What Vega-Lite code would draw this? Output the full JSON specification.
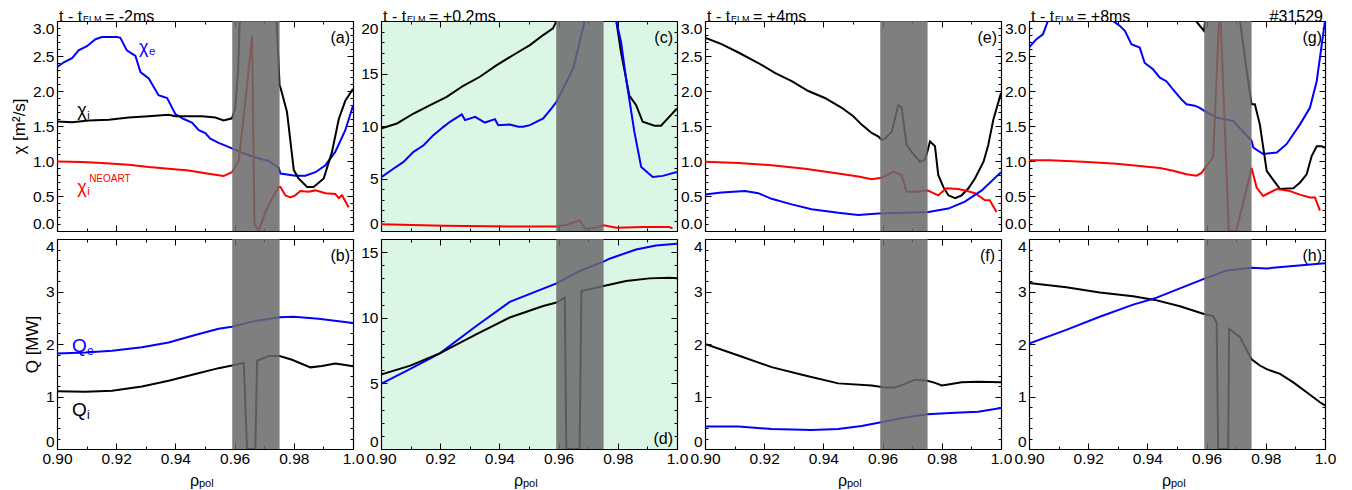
{
"$schema": "https://vega.github.io/schema/vega-lite/v6.json",
"background": "white",
"padding": {"left": 10, "top": 9, "right": 5, "bottom": 5},
"config": {
  "font": "Liberation Sans",
  "view": {"stroke": null},
  "axis": {"domainColor": "black", "domainWidth": 1.2, "tickColor": "black", "tickWidth": 1, "labelFont": "Liberation Sans", "labelFontSize": 15.5, "labelColor": "black", "titleFont": "Liberation Sans", "titleFontSize": 17, "titleFontWeight": "normal", "titleColor": "black", "grid": false, "labelOverlap": false, "zindex": 1},
  "text": {"font": "Liberation Sans", "color": "black"}
},
"datasets": {"d": [
{"p":"a","s":"ce","x":0.9,"y":2.34},{"p":"a","s":"ce","x":0.9023,"y":2.41},{"p":"a","s":"ce","x":0.9051,"y":2.47},{"p":"a","s":"ce","x":0.9073,"y":2.58},{"p":"a","s":"ce","x":0.9101,"y":2.64},{"p":"a","s":"ce","x":0.913,"y":2.74},{"p":"a","s":"ce","x":0.9152,"y":2.77},{"p":"a","s":"ce","x":0.9203,"y":2.77},{"p":"a","s":"ce","x":0.9214,"y":2.76},{"p":"a","s":"ce","x":0.9236,"y":2.58},{"p":"a","s":"ce","x":0.9265,"y":2.5},{"p":"a","s":"ce","x":0.9282,"y":2.27},{"p":"a","s":"ce","x":0.931,"y":2.18},{"p":"a","s":"ce","x":0.9343,"y":1.94},{"p":"a","s":"ce","x":0.9372,"y":1.9},{"p":"a","s":"ce","x":0.94,"y":1.67},{"p":"a","s":"ce","x":0.9428,"y":1.6},{"p":"a","s":"ce","x":0.9456,"y":1.55},{"p":"a","s":"ce","x":0.9479,"y":1.44},{"p":"a","s":"ce","x":0.9501,"y":1.4},{"p":"a","s":"ce","x":0.9518,"y":1.32},{"p":"a","s":"ce","x":0.9546,"y":1.26},{"p":"a","s":"ce","x":0.9569,"y":1.22},{"p":"a","s":"ce","x":0.9591,"y":1.18},{"p":"a","s":"ce","x":0.9625,"y":1.12},{"p":"a","s":"ce","x":0.967,"y":1.05},{"p":"a","s":"ce","x":0.9715,"y":1.0},{"p":"a","s":"ce","x":0.9749,"y":0.9},{"p":"a","s":"ce","x":0.9755,"y":0.82},{"p":"a","s":"ce","x":0.9805,"y":0.79},{"p":"a","s":"ce","x":0.9839,"y":0.79},{"p":"a","s":"ce","x":0.9873,"y":0.84},{"p":"a","s":"ce","x":0.9907,"y":0.94},{"p":"a","s":"ce","x":0.994,"y":1.13},{"p":"a","s":"ce","x":0.9974,"y":1.44},{"p":"a","s":"ce","x":1.0,"y":1.79},
{"p":"a","s":"ci","x":0.9,"y":1.565},{"p":"a","s":"ci","x":0.9051,"y":1.555},{"p":"a","s":"ci","x":0.9107,"y":1.58},{"p":"a","s":"ci","x":0.9175,"y":1.59},{"p":"a","s":"ci","x":0.9242,"y":1.62},{"p":"a","s":"ci","x":0.931,"y":1.64},{"p":"a","s":"ci","x":0.9343,"y":1.65},{"p":"a","s":"ci","x":0.9377,"y":1.66},{"p":"a","s":"ci","x":0.94,"y":1.64},{"p":"a","s":"ci","x":0.9445,"y":1.64},{"p":"a","s":"ci","x":0.949,"y":1.64},{"p":"a","s":"ci","x":0.9535,"y":1.62},{"p":"a","s":"ci","x":0.9563,"y":1.58},{"p":"a","s":"ci","x":0.9591,"y":1.61},{"p":"a","s":"ci","x":0.9602,"y":1.75},{"p":"a","s":"ci","x":0.9612,"y":2.3},{"p":"a","s":"ci","x":0.9619,"y":3.2},{"p":"a","s":"ci","x":0.9625,"y":4.0},{"p":"a","s":"ci","x":0.973,"y":4.0},{"p":"a","s":"ci","x":0.9742,"y":3.0},{"p":"a","s":"ci","x":0.9752,"y":2.08},{"p":"a","s":"ci","x":0.9755,"y":2.05},{"p":"a","s":"ci","x":0.9777,"y":1.7},{"p":"a","s":"ci","x":0.98,"y":0.87},{"p":"a","s":"ci","x":0.9816,"y":0.75},{"p":"a","s":"ci","x":0.9845,"y":0.63},{"p":"a","s":"ci","x":0.9867,"y":0.63},{"p":"a","s":"ci","x":0.9901,"y":0.75},{"p":"a","s":"ci","x":0.9929,"y":1.13},{"p":"a","s":"ci","x":0.9952,"y":1.6},{"p":"a","s":"ci","x":0.9974,"y":1.86},{"p":"a","s":"ci","x":1.0,"y":2.03},
{"p":"a","s":"cn","x":0.9,"y":0.994},{"p":"a","s":"cn","x":0.9084,"y":0.984},{"p":"a","s":"cn","x":0.9152,"y":0.97},{"p":"a","s":"cn","x":0.9242,"y":0.946},{"p":"a","s":"cn","x":0.931,"y":0.913},{"p":"a","s":"cn","x":0.9377,"y":0.89},{"p":"a","s":"cn","x":0.9445,"y":0.865},{"p":"a","s":"cn","x":0.9512,"y":0.818},{"p":"a","s":"cn","x":0.9563,"y":0.785},{"p":"a","s":"cn","x":0.9591,"y":0.84},{"p":"a","s":"cn","x":0.9614,"y":1.0},{"p":"a","s":"cn","x":0.9636,"y":1.84},{"p":"a","s":"cn","x":0.9659,"y":2.79},{"p":"a","s":"cn","x":0.9667,"y":0.1},{"p":"a","s":"cn","x":0.9681,"y":0.0},{"p":"a","s":"cn","x":0.9704,"y":0.27},{"p":"a","s":"cn","x":0.9726,"y":0.46},{"p":"a","s":"cn","x":0.9749,"y":0.63},{"p":"a","s":"cn","x":0.9755,"y":0.63},{"p":"a","s":"cn","x":0.9771,"y":0.51},{"p":"a","s":"cn","x":0.9788,"y":0.48},{"p":"a","s":"cn","x":0.9805,"y":0.51},{"p":"a","s":"cn","x":0.9822,"y":0.57},{"p":"a","s":"cn","x":0.985,"y":0.56},{"p":"a","s":"cn","x":0.9873,"y":0.58},{"p":"a","s":"cn","x":0.9907,"y":0.54},{"p":"a","s":"cn","x":0.994,"y":0.53},{"p":"a","s":"cn","x":0.9952,"y":0.47},{"p":"a","s":"cn","x":0.9963,"y":0.51},{"p":"a","s":"cn","x":0.9985,"y":0.34},
{"p":"b","s":"qe","x":0.9,"y":1.82},{"p":"b","s":"qe","x":0.9096,"y":1.84},{"p":"b","s":"qe","x":0.9186,"y":1.87},{"p":"b","s":"qe","x":0.9287,"y":1.94},{"p":"b","s":"qe","x":0.9377,"y":2.03},{"p":"b","s":"qe","x":0.9467,"y":2.17},{"p":"b","s":"qe","x":0.9546,"y":2.29},{"p":"b","s":"qe","x":0.9591,"y":2.33},{"p":"b","s":"qe","x":0.967,"y":2.44},{"p":"b","s":"qe","x":0.9752,"y":2.51},{"p":"b","s":"qe","x":0.98,"y":2.52},{"p":"b","s":"qe","x":0.9884,"y":2.48},{"p":"b","s":"qe","x":1.0,"y":2.4},
{"p":"b","s":"qi","x":0.9,"y":1.1},{"p":"b","s":"qi","x":0.9096,"y":1.09},{"p":"b","s":"qi","x":0.9186,"y":1.11},{"p":"b","s":"qi","x":0.9287,"y":1.19},{"p":"b","s":"qi","x":0.9377,"y":1.3},{"p":"b","s":"qi","x":0.9467,"y":1.43},{"p":"b","s":"qi","x":0.9546,"y":1.54},{"p":"b","s":"qi","x":0.9591,"y":1.59},{"p":"b","s":"qi","x":0.9631,"y":1.64},{"p":"b","s":"qi","x":0.9642,"y":0.0},{"p":"b","s":"qi","x":0.967,"y":0.0},{"p":"b","s":"qi","x":0.9676,"y":1.68},{"p":"b","s":"qi","x":0.9715,"y":1.77},{"p":"b","s":"qi","x":0.9752,"y":1.77},{"p":"b","s":"qi","x":0.9794,"y":1.7},{"p":"b","s":"qi","x":0.9856,"y":1.555},{"p":"b","s":"qi","x":0.9895,"y":1.58},{"p":"b","s":"qi","x":0.994,"y":1.63},{"p":"b","s":"qi","x":0.9974,"y":1.6},{"p":"b","s":"qi","x":1.0,"y":1.575},
{"p":"c","s":"ci","x":0.9,"y":9.76},{"p":"c","s":"ci","x":0.9054,"y":10.24},{"p":"c","s":"ci","x":0.911,"y":11.19},{"p":"c","s":"ci","x":0.9166,"y":11.99},{"p":"c","s":"ci","x":0.9222,"y":12.78},{"p":"c","s":"ci","x":0.9278,"y":13.83},{"p":"c","s":"ci","x":0.9334,"y":14.69},{"p":"c","s":"ci","x":0.9391,"y":15.8},{"p":"c","s":"ci","x":0.9447,"y":16.76},{"p":"c","s":"ci","x":0.9503,"y":17.71},{"p":"c","s":"ci","x":0.9548,"y":18.66},{"p":"c","s":"ci","x":0.9581,"y":19.3},{"p":"c","s":"ci","x":0.9593,"y":20.0},{"p":"c","s":"ci","x":0.962,"y":24},{"p":"c","s":"ci","x":0.978,"y":24},{"p":"c","s":"ci","x":0.9795,"y":20.0},{"p":"c","s":"ci","x":0.9811,"y":17.0},{"p":"c","s":"ci","x":0.9839,"y":12.9},{"p":"c","s":"ci","x":0.9862,"y":11.99},{"p":"c","s":"ci","x":0.9884,"y":10.4},{"p":"c","s":"ci","x":0.9924,"y":10.02},{"p":"c","s":"ci","x":0.9946,"y":10.02},{"p":"c","s":"ci","x":0.9969,"y":10.72},{"p":"c","s":"ci","x":1.0,"y":11.67},
{"p":"c","s":"ce","x":0.9,"y":5.09},{"p":"c","s":"ce","x":0.9043,"y":5.95},{"p":"c","s":"ce","x":0.9076,"y":6.58},{"p":"c","s":"ce","x":0.911,"y":7.54},{"p":"c","s":"ce","x":0.9144,"y":8.17},{"p":"c","s":"ce","x":0.9177,"y":9.13},{"p":"c","s":"ce","x":0.9211,"y":9.92},{"p":"c","s":"ce","x":0.9233,"y":10.4},{"p":"c","s":"ce","x":0.9273,"y":11.1},{"p":"c","s":"ce","x":0.9284,"y":10.56},{"p":"c","s":"ce","x":0.9318,"y":10.87},{"p":"c","s":"ce","x":0.9351,"y":10.33},{"p":"c","s":"ce","x":0.9385,"y":10.65},{"p":"c","s":"ce","x":0.9396,"y":10.08},{"p":"c","s":"ce","x":0.9435,"y":10.14},{"p":"c","s":"ce","x":0.9464,"y":9.92},{"p":"c","s":"ce","x":0.948,"y":9.92},{"p":"c","s":"ce","x":0.9503,"y":10.08},{"p":"c","s":"ce","x":0.9548,"y":10.72},{"p":"c","s":"ce","x":0.9576,"y":11.67},{"p":"c","s":"ce","x":0.9593,"y":12.31},{"p":"c","s":"ce","x":0.965,"y":15.5},{"p":"c","s":"ce","x":0.9688,"y":20.0},{"p":"c","s":"ce","x":0.97,"y":24},{"p":"c","s":"ce","x":0.978,"y":24},{"p":"c","s":"ce","x":0.9795,"y":20.0},{"p":"c","s":"ce","x":0.9811,"y":18.0},{"p":"c","s":"ce","x":0.9828,"y":14.5},{"p":"c","s":"ce","x":0.9856,"y":9.44},{"p":"c","s":"ce","x":0.9879,"y":6.1},{"p":"c","s":"ce","x":0.9918,"y":5.15},{"p":"c","s":"ce","x":0.9952,"y":5.25},{"p":"c","s":"ce","x":1.0,"y":5.63},
{"p":"c","s":"cn","x":0.9,"y":0.64},{"p":"c","s":"cn","x":0.9211,"y":0.5},{"p":"c","s":"cn","x":0.9435,"y":0.42},{"p":"c","s":"cn","x":0.9593,"y":0.42},{"p":"c","s":"cn","x":0.9626,"y":0.6},{"p":"c","s":"cn","x":0.9671,"y":1.0},{"p":"c","s":"cn","x":0.969,"y":0.2},{"p":"c","s":"cn","x":0.972,"y":0.3},{"p":"c","s":"cn","x":0.9752,"y":0.54},{"p":"c","s":"cn","x":0.9795,"y":0.32},{"p":"c","s":"cn","x":0.9884,"y":0.38},{"p":"c","s":"cn","x":0.9974,"y":0.38},{"p":"c","s":"cn","x":0.9985,"y":0.25},
{"p":"d","s":"qe","x":0.9,"y":4.96},{"p":"d","s":"qe","x":0.9099,"y":6.1},{"p":"d","s":"qe","x":0.92,"y":7.31},{"p":"d","s":"qe","x":0.9323,"y":9.39},{"p":"d","s":"qe","x":0.9435,"y":11.21},{"p":"d","s":"qe","x":0.9593,"y":12.62},{"p":"d","s":"qe","x":0.9671,"y":13.56},{"p":"d","s":"qe","x":0.9752,"y":14.27},{"p":"d","s":"qe","x":0.9772,"y":14.5},{"p":"d","s":"qe","x":0.9862,"y":15.2},{"p":"d","s":"qe","x":0.9929,"y":15.51},{"p":"d","s":"qe","x":1.0,"y":15.63},
{"p":"d","s":"qi","x":0.9,"y":5.67},{"p":"d","s":"qi","x":0.9099,"y":6.35},{"p":"d","s":"qi","x":0.92,"y":7.31},{"p":"d","s":"qi","x":0.9323,"y":8.75},{"p":"d","s":"qi","x":0.9435,"y":10.02},{"p":"d","s":"qi","x":0.9548,"y":10.9},{"p":"d","s":"qi","x":0.9593,"y":11.16},{"p":"d","s":"qi","x":0.9621,"y":11.54},{"p":"d","s":"qi","x":0.9626,"y":0.0},{"p":"d","s":"qi","x":0.9671,"y":0.0},{"p":"d","s":"qi","x":0.9677,"y":12.04},{"p":"d","s":"qi","x":0.9752,"y":12.42},{"p":"d","s":"qi","x":0.9828,"y":12.8},{"p":"d","s":"qi","x":0.9907,"y":13.0},{"p":"d","s":"qi","x":0.9974,"y":13.05},{"p":"d","s":"qi","x":1.0,"y":13.0},
{"p":"e","s":"ci","x":0.9,"y":2.76},{"p":"e","s":"ci","x":0.9056,"y":2.67},{"p":"e","s":"ci","x":0.9113,"y":2.55},{"p":"e","s":"ci","x":0.918,"y":2.4},{"p":"e","s":"ci","x":0.9236,"y":2.26},{"p":"e","s":"ci","x":0.9293,"y":2.14},{"p":"e","s":"ci","x":0.9349,"y":2.0},{"p":"e","s":"ci","x":0.9405,"y":1.9},{"p":"e","s":"ci","x":0.9462,"y":1.76},{"p":"e","s":"ci","x":0.9501,"y":1.64},{"p":"e","s":"ci","x":0.9529,"y":1.52},{"p":"e","s":"ci","x":0.9563,"y":1.4},{"p":"e","s":"ci","x":0.9586,"y":1.35},{"p":"e","s":"ci","x":0.9597,"y":1.3},{"p":"e","s":"ci","x":0.9608,"y":1.32},{"p":"e","s":"ci","x":0.9631,"y":1.42},{"p":"e","s":"ci","x":0.9653,"y":1.8},{"p":"e","s":"ci","x":0.9664,"y":1.77},{"p":"e","s":"ci","x":0.9681,"y":1.23},{"p":"e","s":"ci","x":0.9698,"y":1.13},{"p":"e","s":"ci","x":0.9726,"y":0.99},{"p":"e","s":"ci","x":0.9743,"y":1.02},{"p":"e","s":"ci","x":0.9751,"y":1.13},{"p":"e","s":"ci","x":0.976,"y":1.28},{"p":"e","s":"ci","x":0.9777,"y":1.21},{"p":"e","s":"ci","x":0.9788,"y":0.8},{"p":"e","s":"ci","x":0.9805,"y":0.63},{"p":"e","s":"ci","x":0.9822,"y":0.51},{"p":"e","s":"ci","x":0.9845,"y":0.47},{"p":"e","s":"ci","x":0.9867,"y":0.51},{"p":"e","s":"ci","x":0.989,"y":0.61},{"p":"e","s":"ci","x":0.9912,"y":0.75},{"p":"e","s":"ci","x":0.9941,"y":0.99},{"p":"e","s":"ci","x":0.9957,"y":1.23},{"p":"e","s":"ci","x":0.9974,"y":1.59},{"p":"e","s":"ci","x":1.0,"y":1.97},
{"p":"e","s":"cn","x":0.9,"y":0.99},{"p":"e","s":"cn","x":0.9113,"y":0.97},{"p":"e","s":"cn","x":0.9225,"y":0.94},{"p":"e","s":"cn","x":0.9338,"y":0.89},{"p":"e","s":"cn","x":0.945,"y":0.82},{"p":"e","s":"cn","x":0.9518,"y":0.78},{"p":"e","s":"cn","x":0.9563,"y":0.74},{"p":"e","s":"cn","x":0.9597,"y":0.76},{"p":"e","s":"cn","x":0.9636,"y":0.85},{"p":"e","s":"cn","x":0.9664,"y":0.8},{"p":"e","s":"cn","x":0.9681,"y":0.56},{"p":"e","s":"cn","x":0.9721,"y":0.56},{"p":"e","s":"cn","x":0.9751,"y":0.58},{"p":"e","s":"cn","x":0.9788,"y":0.51},{"p":"e","s":"cn","x":0.9816,"y":0.61},{"p":"e","s":"cn","x":0.9856,"y":0.6},{"p":"e","s":"cn","x":0.9878,"y":0.58},{"p":"e","s":"cn","x":0.9912,"y":0.54},{"p":"e","s":"cn","x":0.9946,"y":0.44},{"p":"e","s":"cn","x":0.9962,"y":0.44},{"p":"e","s":"cn","x":0.9985,"y":0.27},
{"p":"e","s":"ce","x":0.9,"y":0.52},{"p":"e","s":"ce","x":0.9056,"y":0.55},{"p":"e","s":"ce","x":0.9135,"y":0.57},{"p":"e","s":"ce","x":0.918,"y":0.54},{"p":"e","s":"ce","x":0.9225,"y":0.46},{"p":"e","s":"ce","x":0.9293,"y":0.38},{"p":"e","s":"ce","x":0.936,"y":0.31},{"p":"e","s":"ce","x":0.945,"y":0.26},{"p":"e","s":"ce","x":0.9518,"y":0.23},{"p":"e","s":"ce","x":0.9586,"y":0.25},{"p":"e","s":"ce","x":0.9676,"y":0.26},{"p":"e","s":"ce","x":0.9755,"y":0.27},{"p":"e","s":"ce","x":0.9822,"y":0.32},{"p":"e","s":"ce","x":0.9878,"y":0.42},{"p":"e","s":"ce","x":0.9935,"y":0.58},{"p":"e","s":"ce","x":1.0,"y":0.84},
{"p":"f","s":"qi","x":0.9,"y":2.0},{"p":"f","s":"qi","x":0.9113,"y":1.78},{"p":"f","s":"qi","x":0.9225,"y":1.56},{"p":"f","s":"qi","x":0.9338,"y":1.4},{"p":"f","s":"qi","x":0.945,"y":1.25},{"p":"f","s":"qi","x":0.9563,"y":1.21},{"p":"f","s":"qi","x":0.9608,"y":1.17},{"p":"f","s":"qi","x":0.9642,"y":1.17},{"p":"f","s":"qi","x":0.9676,"y":1.24},{"p":"f","s":"qi","x":0.9709,"y":1.32},{"p":"f","s":"qi","x":0.9751,"y":1.3},{"p":"f","s":"qi","x":0.9777,"y":1.26},{"p":"f","s":"qi","x":0.98,"y":1.21},{"p":"f","s":"qi","x":0.9822,"y":1.23},{"p":"f","s":"qi","x":0.9867,"y":1.27},{"p":"f","s":"qi","x":0.9923,"y":1.28},{"p":"f","s":"qi","x":1.0,"y":1.27},
{"p":"f","s":"qe","x":0.9,"y":0.43},{"p":"f","s":"qe","x":0.9113,"y":0.43},{"p":"f","s":"qe","x":0.9225,"y":0.38},{"p":"f","s":"qe","x":0.936,"y":0.36},{"p":"f","s":"qe","x":0.945,"y":0.38},{"p":"f","s":"qe","x":0.9529,"y":0.44},{"p":"f","s":"qe","x":0.9595,"y":0.51},{"p":"f","s":"qe","x":0.9676,"y":0.6},{"p":"f","s":"qe","x":0.9751,"y":0.66},{"p":"f","s":"qe","x":0.9845,"y":0.69},{"p":"f","s":"qe","x":0.9923,"y":0.71},{"p":"f","s":"qe","x":1.0,"y":0.78},
{"p":"g","s":"ce","x":0.9,"y":2.62},{"p":"g","s":"ce","x":0.9025,"y":2.74},{"p":"g","s":"ce","x":0.9047,"y":2.81},{"p":"g","s":"ce","x":0.9064,"y":3.0},{"p":"g","s":"ce","x":0.91,"y":3.2},{"p":"g","s":"ce","x":0.918,"y":3.3},{"p":"g","s":"ce","x":0.924,"y":3.25},{"p":"g","s":"ce","x":0.9284,"y":3.0},{"p":"g","s":"ce","x":0.9307,"y":2.93},{"p":"g","s":"ce","x":0.9324,"y":2.86},{"p":"g","s":"ce","x":0.9346,"y":2.67},{"p":"g","s":"ce","x":0.9374,"y":2.62},{"p":"g","s":"ce","x":0.9391,"y":2.4},{"p":"g","s":"ce","x":0.9419,"y":2.31},{"p":"g","s":"ce","x":0.9442,"y":2.19},{"p":"g","s":"ce","x":0.9464,"y":2.14},{"p":"g","s":"ce","x":0.9487,"y":2.02},{"p":"g","s":"ce","x":0.9515,"y":1.88},{"p":"g","s":"ce","x":0.9532,"y":1.81},{"p":"g","s":"ce","x":0.956,"y":1.79},{"p":"g","s":"ce","x":0.9577,"y":1.76},{"p":"g","s":"ce","x":0.9591,"y":1.72},{"p":"g","s":"ce","x":0.9634,"y":1.62},{"p":"g","s":"ce","x":0.969,"y":1.57},{"p":"g","s":"ce","x":0.9752,"y":1.29},{"p":"g","s":"ce","x":0.9758,"y":1.19},{"p":"g","s":"ce","x":0.9791,"y":1.1},{"p":"g","s":"ce","x":0.9837,"y":1.12},{"p":"g","s":"ce","x":0.987,"y":1.24},{"p":"g","s":"ce","x":0.9915,"y":1.52},{"p":"g","s":"ce","x":0.9949,"y":1.76},{"p":"g","s":"ce","x":0.9972,"y":2.14},{"p":"g","s":"ce","x":1.0,"y":3.0},
{"p":"g","s":"ci","x":0.9,"y":3.6},{"p":"g","s":"ci","x":0.955,"y":3.3},{"p":"g","s":"ci","x":0.9566,"y":2.99},{"p":"g","s":"ci","x":0.9591,"y":2.86},{"p":"g","s":"ci","x":0.961,"y":3.5},{"p":"g","s":"ci","x":0.97,"y":3.6},{"p":"g","s":"ci","x":0.9713,"y":3.0},{"p":"g","s":"ci","x":0.9735,"y":2.3},{"p":"g","s":"ci","x":0.9752,"y":1.81},{"p":"g","s":"ci","x":0.9763,"y":1.81},{"p":"g","s":"ci","x":0.978,"y":1.52},{"p":"g","s":"ci","x":0.9803,"y":0.86},{"p":"g","s":"ci","x":0.982,"y":0.76},{"p":"g","s":"ci","x":0.9848,"y":0.6},{"p":"g","s":"ci","x":0.9893,"y":0.61},{"p":"g","s":"ci","x":0.9915,"y":0.69},{"p":"g","s":"ci","x":0.9938,"y":0.81},{"p":"g","s":"ci","x":0.9955,"y":1.07},{"p":"g","s":"ci","x":0.9972,"y":1.21},{"p":"g","s":"ci","x":0.9989,"y":1.21},{"p":"g","s":"ci","x":1.0,"y":1.19},
{"p":"g","s":"cn","x":0.9,"y":1.01},{"p":"g","s":"cn","x":0.907,"y":1.01},{"p":"g","s":"cn","x":0.9183,"y":0.99},{"p":"g","s":"cn","x":0.9295,"y":0.96},{"p":"g","s":"cn","x":0.9374,"y":0.93},{"p":"g","s":"cn","x":0.9442,"y":0.9},{"p":"g","s":"cn","x":0.9487,"y":0.86},{"p":"g","s":"cn","x":0.9532,"y":0.81},{"p":"g","s":"cn","x":0.9566,"y":0.79},{"p":"g","s":"cn","x":0.9583,"y":0.83},{"p":"g","s":"cn","x":0.9591,"y":0.88},{"p":"g","s":"cn","x":0.9622,"y":1.05},{"p":"g","s":"cn","x":0.9645,"y":3.3},{"p":"g","s":"cn","x":0.9675,"y":0.0},{"p":"g","s":"cn","x":0.97,"y":0.0},{"p":"g","s":"cn","x":0.9735,"y":0.6},{"p":"g","s":"cn","x":0.9752,"y":0.9},{"p":"g","s":"cn","x":0.9769,"y":0.62},{"p":"g","s":"cn","x":0.9791,"y":0.5},{"p":"g","s":"cn","x":0.9814,"y":0.55},{"p":"g","s":"cn","x":0.9837,"y":0.6},{"p":"g","s":"cn","x":0.9882,"y":0.57},{"p":"g","s":"cn","x":0.9915,"y":0.52},{"p":"g","s":"cn","x":0.9949,"y":0.48},{"p":"g","s":"cn","x":0.9966,"y":0.48},{"p":"g","s":"cn","x":0.9983,"y":0.29},
{"p":"h","s":"qi","x":0.9,"y":3.16},{"p":"h","s":"qi","x":0.9126,"y":3.08},{"p":"h","s":"qi","x":0.9239,"y":2.98},{"p":"h","s":"qi","x":0.9352,"y":2.91},{"p":"h","s":"qi","x":0.9425,"y":2.84},{"p":"h","s":"qi","x":0.951,"y":2.72},{"p":"h","s":"qi","x":0.9591,"y":2.57},{"p":"h","s":"qi","x":0.9622,"y":2.53},{"p":"h","s":"qi","x":0.9634,"y":2.41},{"p":"h","s":"qi","x":0.9639,"y":0.0},{"p":"h","s":"qi","x":0.9673,"y":0.0},{"p":"h","s":"qi","x":0.9676,"y":2.29},{"p":"h","s":"qi","x":0.9713,"y":2.13},{"p":"h","s":"qi","x":0.9752,"y":1.71},{"p":"h","s":"qi","x":0.978,"y":1.59},{"p":"h","s":"qi","x":0.9803,"y":1.52},{"p":"h","s":"qi","x":0.9848,"y":1.43},{"p":"h","s":"qi","x":0.9893,"y":1.27},{"p":"h","s":"qi","x":0.9938,"y":1.08},{"p":"h","s":"qi","x":0.9983,"y":0.89},{"p":"h","s":"qi","x":1.0,"y":0.83},
{"p":"h","s":"qe","x":0.9,"y":2.01},{"p":"h","s":"qe","x":0.9126,"y":2.27},{"p":"h","s":"qe","x":0.9239,"y":2.52},{"p":"h","s":"qe","x":0.9352,"y":2.75},{"p":"h","s":"qe","x":0.9425,"y":2.87},{"p":"h","s":"qe","x":0.951,"y":3.06},{"p":"h","s":"qe","x":0.9591,"y":3.24},{"p":"h","s":"qe","x":0.9667,"y":3.4},{"p":"h","s":"qe","x":0.9752,"y":3.45},{"p":"h","s":"qe","x":0.9803,"y":3.44},{"p":"h","s":"qe","x":0.9882,"y":3.48},{"p":"h","s":"qe","x":1.0,"y":3.54}
]},
"columns": 4,
"spacing": {"row": 8, "column": 28},
"bounds": "flush",
"concat": [
 {"width": 296, "height": 210,
  "layer": [
   {"data": {"name": "d"}, "transform": [{"filter": "datum.p=='a'"}],
    "mark": {"type": "line", "strokeWidth": 2, "clip": true},
    "encoding": {
     "x": {"field": "x", "type": "quantitative", "scale": {"domain": [0.9, 1.0], "nice": false, "zero": false}, "axis": {"orient": "bottom", "values": [0.9,0.91,0.92,0.93,0.94,0.95,0.96,0.97,0.98,0.99,1.0], "labels": false, "title": null, "tickSize": {"condition": {"test": "round(datum.value*100)%2==0", "value": -6}, "value": -3}}},
     "y": {"field": "y", "type": "quantitative", "scale": {"domain": [0, 3], "nice": false, "zero": false}, "axis": {"orient": "left", "values": [0,0.1,0.2,0.3,0.4,0.5,0.6,0.7,0.8,0.9,1,1.1,1.2,1.3,1.4,1.5,1.6,1.7,1.8,1.9,2,2.1,2.2,2.3,2.4,2.5,2.6,2.7,2.8,2.9,3], "labelExpr": "round(datum.value*10)%5==0 ? format(datum.value,'.1f') : ''", "labelFlush": true, "labelPadding": 9, "tickSize": {"condition": {"test": "round(datum.value*10)%5==0", "value": -6}, "value": -3}, "title": "χ [m²/s]"}},
     "color": {"field": "s", "type": "nominal", "scale": {"domain": ["ce","ci","cn","qe","qi"], "range": ["#0000ff","#000000","#ff0000","#0000ff","#000000"]}, "legend": null}
    }},
   {"data": {"values": [{}]}, "mark": {"type": "rect", "color": "#6a6a6a", "opacity": 0.86},
    "encoding": {
     "x": {"datum": 0.9592, "type": "quantitative", "axis": {"orient": "top", "values": [0.9,0.91,0.92,0.93,0.94,0.95,0.96,0.97,0.98,0.99,1.0], "labels": false, "title": null, "tickSize": {"condition": {"test": "round(datum.value*100)%2==0", "value": -6}, "value": -3}}},
     "x2": {"datum": 0.9752},
     "y": {"datum": 0, "type": "quantitative", "axis": {"orient": "right", "values": [0,0.1,0.2,0.3,0.4,0.5,0.6,0.7,0.8,0.9,1,1.1,1.2,1.3,1.4,1.5,1.6,1.7,1.8,1.9,2,2.1,2.2,2.3,2.4,2.5,2.6,2.7,2.8,2.9,3], "labels": false, "title": null, "tickSize": {"condition": {"test": "round(datum.value*10)%5==0", "value": -6}, "value": -3}}},
     "y2": {"datum": 3}
    }},
   {"data": {"values": [{}]}, "mark": {"type": "text", "text": "t - t", "align": "left", "dx": 2, "dy": -4, "fontSize": 16}, "encoding": {"x": {"datum": 0.9, "type": "quantitative", "axis": null}, "y": {"datum": 3, "type": "quantitative", "axis": null}}},
   {"data": {"values": [{}]}, "mark": {"type": "text", "text": "ELM", "align": "left", "dx": 26, "dy": -2, "fontSize": 9}, "encoding": {"x": {"datum": 0.9, "type": "quantitative", "axis": null}, "y": {"datum": 3, "type": "quantitative", "axis": null}}},
   {"data": {"values": [{}]}, "mark": {"type": "text", "text": "= -2ms", "align": "left", "dx": 48, "dy": -4, "fontSize": 16}, "encoding": {"x": {"datum": 0.9, "type": "quantitative", "axis": null}, "y": {"datum": 3, "type": "quantitative", "axis": null}}},
   {"data": {"values": [{}]}, "mark": {"type": "text", "text": "(a)", "align": "right", "dx": -3, "dy": 17, "fontSize": 16}, "encoding": {"x": {"datum": 1.0, "type": "quantitative", "axis": null}, "y": {"datum": 3, "type": "quantitative", "axis": null}}},
   {"data": {"values": [{}]}, "mark": {"type": "text", "text": "χ", "align": "left", "fontSize": 18, "color": "#0000ff"}, "encoding": {"x": {"datum": 0.9277, "type": "quantitative", "axis": null}, "y": {"datum": 2.614, "type": "quantitative", "axis": null}}},
   {"data": {"values": [{}]}, "mark": {"type": "text", "text": "e", "align": "left", "dx": 10, "dy": 4, "fontSize": 11.5, "color": "#0000ff"}, "encoding": {"x": {"datum": 0.9277, "type": "quantitative", "axis": null}, "y": {"datum": 2.614, "type": "quantitative", "axis": null}}},
   {"data": {"values": [{}]}, "mark": {"type": "text", "text": "χ", "align": "left", "fontSize": 18, "color": "black"}, "encoding": {"x": {"datum": 0.9068, "type": "quantitative", "axis": null}, "y": {"datum": 1.709, "type": "quantitative", "axis": null}}},
   {"data": {"values": [{}]}, "mark": {"type": "text", "text": "i", "align": "left", "dx": 10, "dy": 4.5, "fontSize": 11, "color": "black"}, "encoding": {"x": {"datum": 0.9068, "type": "quantitative", "axis": null}, "y": {"datum": 1.709, "type": "quantitative", "axis": null}}},
   {"data": {"values": [{}]}, "mark": {"type": "text", "text": "χ", "align": "left", "fontSize": 18, "color": "#ff0000"}, "encoding": {"x": {"datum": 0.9068, "type": "quantitative", "axis": null}, "y": {"datum": 0.614, "type": "quantitative", "axis": null}}},
   {"data": {"values": [{}]}, "mark": {"type": "text", "text": "i", "align": "left", "dx": 10, "dy": 4, "fontSize": 11, "color": "#ff0000"}, "encoding": {"x": {"datum": 0.9068, "type": "quantitative", "axis": null}, "y": {"datum": 0.614, "type": "quantitative", "axis": null}}},
   {"data": {"values": [{}]}, "mark": {"type": "text", "text": "NEOART", "align": "left", "dx": 12, "dy": -9, "fontSize": 10, "color": "#ff0000"}, "encoding": {"x": {"datum": 0.9068, "type": "quantitative", "axis": null}, "y": {"datum": 0.614, "type": "quantitative", "axis": null}}}
  ],
  "resolve": {"axis": {"x": "independent", "y": "independent"}}},
 {"width": 296, "height": 210, "view": {"fill": "#dcf6e6"},
  "layer": [
   {"data": {"name": "d"}, "transform": [{"filter": "datum.p=='c'"}],
    "mark": {"type": "line", "strokeWidth": 2, "clip": true},
    "encoding": {
     "x": {"field": "x", "type": "quantitative", "scale": {"domain": [0.9, 1.0], "nice": false, "zero": false}, "axis": {"orient": "bottom", "values": [0.9,0.91,0.92,0.93,0.94,0.95,0.96,0.97,0.98,0.99,1.0], "labels": false, "title": null, "tickSize": {"condition": {"test": "round(datum.value*100)%2==0", "value": -6}, "value": -3}}},
     "y": {"field": "y", "type": "quantitative", "scale": {"domain": [0, 20], "nice": false, "zero": false}, "axis": {"orient": "left", "values": [0,1,2,3,4,5,6,7,8,9,10,11,12,13,14,15,16,17,18,19,20], "labelExpr": "round(datum.value)%5==0 ? format(datum.value,'d') : ''", "labelFlush": true, "labelPadding": 9, "tickSize": {"condition": {"test": "round(datum.value)%5==0", "value": -6}, "value": -3}, "title": null}},
     "color": {"field": "s", "type": "nominal", "scale": {"domain": ["ce","ci","cn","qe","qi"], "range": ["#0000ff","#000000","#ff0000","#0000ff","#000000"]}, "legend": null}
    }},
   {"data": {"values": [{}]}, "mark": {"type": "rect", "color": "#6a6a6a", "opacity": 0.86},
    "encoding": {
     "x": {"datum": 0.9592, "type": "quantitative", "axis": {"orient": "top", "values": [0.9,0.91,0.92,0.93,0.94,0.95,0.96,0.97,0.98,0.99,1.0], "labels": false, "title": null, "tickSize": {"condition": {"test": "round(datum.value*100)%2==0", "value": -6}, "value": -3}}},
     "x2": {"datum": 0.9752},
     "y": {"datum": 0, "type": "quantitative", "axis": {"orient": "right", "values": [0,1,2,3,4,5,6,7,8,9,10,11,12,13,14,15,16,17,18,19,20], "labels": false, "title": null, "tickSize": {"condition": {"test": "round(datum.value)%5==0", "value": -6}, "value": -3}}},
     "y2": {"datum": 20}
    }},
   {"data": {"values": [{}]}, "mark": {"type": "text", "text": "t - t", "align": "left", "dx": 2, "dy": -4, "fontSize": 16}, "encoding": {"x": {"datum": 0.9, "type": "quantitative", "axis": null}, "y": {"datum": 20, "type": "quantitative", "axis": null}}},
   {"data": {"values": [{}]}, "mark": {"type": "text", "text": "ELM", "align": "left", "dx": 26, "dy": -2, "fontSize": 9}, "encoding": {"x": {"datum": 0.9, "type": "quantitative", "axis": null}, "y": {"datum": 20, "type": "quantitative", "axis": null}}},
   {"data": {"values": [{}]}, "mark": {"type": "text", "text": "= +0.2ms", "align": "left", "dx": 48, "dy": -4, "fontSize": 16}, "encoding": {"x": {"datum": 0.9, "type": "quantitative", "axis": null}, "y": {"datum": 20, "type": "quantitative", "axis": null}}},
   {"data": {"values": [{}]}, "mark": {"type": "text", "text": "(c)", "align": "right", "dx": -4, "dy": 17, "fontSize": 16}, "encoding": {"x": {"datum": 1.0, "type": "quantitative", "axis": null}, "y": {"datum": 20, "type": "quantitative", "axis": null}}}
  ],
  "resolve": {"axis": {"x": "independent", "y": "independent"}}},
 {"width": 296, "height": 210,
  "layer": [
   {"data": {"name": "d"}, "transform": [{"filter": "datum.p=='e'"}],
    "mark": {"type": "line", "strokeWidth": 2, "clip": true},
    "encoding": {
     "x": {"field": "x", "type": "quantitative", "scale": {"domain": [0.9, 1.0], "nice": false, "zero": false}, "axis": {"orient": "bottom", "values": [0.9,0.91,0.92,0.93,0.94,0.95,0.96,0.97,0.98,0.99,1.0], "labels": false, "title": null, "tickSize": {"condition": {"test": "round(datum.value*100)%2==0", "value": -6}, "value": -3}}},
     "y": {"field": "y", "type": "quantitative", "scale": {"domain": [0, 3], "nice": false, "zero": false}, "axis": {"orient": "left", "values": [0,0.1,0.2,0.3,0.4,0.5,0.6,0.7,0.8,0.9,1,1.1,1.2,1.3,1.4,1.5,1.6,1.7,1.8,1.9,2,2.1,2.2,2.3,2.4,2.5,2.6,2.7,2.8,2.9,3], "labelExpr": "round(datum.value*10)%5==0 ? format(datum.value,'.1f') : ''", "labelFlush": true, "labelPadding": 9, "tickSize": {"condition": {"test": "round(datum.value*10)%5==0", "value": -6}, "value": -3}, "title": null}},
     "color": {"field": "s", "type": "nominal", "scale": {"domain": ["ce","ci","cn","qe","qi"], "range": ["#0000ff","#000000","#ff0000","#0000ff","#000000"]}, "legend": null}
    }},
   {"data": {"values": [{}]}, "mark": {"type": "rect", "color": "#6a6a6a", "opacity": 0.86},
    "encoding": {
     "x": {"datum": 0.9592, "type": "quantitative", "axis": {"orient": "top", "values": [0.9,0.91,0.92,0.93,0.94,0.95,0.96,0.97,0.98,0.99,1.0], "labels": false, "title": null, "tickSize": {"condition": {"test": "round(datum.value*100)%2==0", "value": -6}, "value": -3}}},
     "x2": {"datum": 0.9752},
     "y": {"datum": 0, "type": "quantitative", "axis": {"orient": "right", "values": [0,0.1,0.2,0.3,0.4,0.5,0.6,0.7,0.8,0.9,1,1.1,1.2,1.3,1.4,1.5,1.6,1.7,1.8,1.9,2,2.1,2.2,2.3,2.4,2.5,2.6,2.7,2.8,2.9,3], "labels": false, "title": null, "tickSize": {"condition": {"test": "round(datum.value*10)%5==0", "value": -6}, "value": -3}}},
     "y2": {"datum": 3}
    }},
   {"data": {"values": [{}]}, "mark": {"type": "text", "text": "t - t", "align": "left", "dx": 2, "dy": -4, "fontSize": 16}, "encoding": {"x": {"datum": 0.9, "type": "quantitative", "axis": null}, "y": {"datum": 3, "type": "quantitative", "axis": null}}},
   {"data": {"values": [{}]}, "mark": {"type": "text", "text": "ELM", "align": "left", "dx": 26, "dy": -2, "fontSize": 9}, "encoding": {"x": {"datum": 0.9, "type": "quantitative", "axis": null}, "y": {"datum": 3, "type": "quantitative", "axis": null}}},
   {"data": {"values": [{}]}, "mark": {"type": "text", "text": "= +4ms", "align": "left", "dx": 48, "dy": -4, "fontSize": 16}, "encoding": {"x": {"datum": 0.9, "type": "quantitative", "axis": null}, "y": {"datum": 3, "type": "quantitative", "axis": null}}},
   {"data": {"values": [{}]}, "mark": {"type": "text", "text": "(e)", "align": "right", "dx": -4, "dy": 17, "fontSize": 16}, "encoding": {"x": {"datum": 1.0, "type": "quantitative", "axis": null}, "y": {"datum": 3, "type": "quantitative", "axis": null}}}
  ],
  "resolve": {"axis": {"x": "independent", "y": "independent"}}},
 {"width": 296, "height": 210,
  "layer": [
   {"data": {"name": "d"}, "transform": [{"filter": "datum.p=='g'"}],
    "mark": {"type": "line", "strokeWidth": 2, "clip": true},
    "encoding": {
     "x": {"field": "x", "type": "quantitative", "scale": {"domain": [0.9, 1.0], "nice": false, "zero": false}, "axis": {"orient": "bottom", "values": [0.9,0.91,0.92,0.93,0.94,0.95,0.96,0.97,0.98,0.99,1.0], "labels": false, "title": null, "tickSize": {"condition": {"test": "round(datum.value*100)%2==0", "value": -6}, "value": -3}}},
     "y": {"field": "y", "type": "quantitative", "scale": {"domain": [0, 3], "nice": false, "zero": false}, "axis": {"orient": "left", "values": [0,0.1,0.2,0.3,0.4,0.5,0.6,0.7,0.8,0.9,1,1.1,1.2,1.3,1.4,1.5,1.6,1.7,1.8,1.9,2,2.1,2.2,2.3,2.4,2.5,2.6,2.7,2.8,2.9,3], "labelExpr": "round(datum.value*10)%5==0 ? format(datum.value,'.1f') : ''", "labelFlush": true, "labelPadding": 9, "tickSize": {"condition": {"test": "round(datum.value*10)%5==0", "value": -6}, "value": -3}, "title": null}},
     "color": {"field": "s", "type": "nominal", "scale": {"domain": ["ce","ci","cn","qe","qi"], "range": ["#0000ff","#000000","#ff0000","#0000ff","#000000"]}, "legend": null}
    }},
   {"data": {"values": [{}]}, "mark": {"type": "rect", "color": "#6a6a6a", "opacity": 0.86},
    "encoding": {
     "x": {"datum": 0.9592, "type": "quantitative", "axis": {"orient": "top", "values": [0.9,0.91,0.92,0.93,0.94,0.95,0.96,0.97,0.98,0.99,1.0], "labels": false, "title": null, "tickSize": {"condition": {"test": "round(datum.value*100)%2==0", "value": -6}, "value": -3}}},
     "x2": {"datum": 0.9752},
     "y": {"datum": 0, "type": "quantitative", "axis": {"orient": "right", "values": [0,0.1,0.2,0.3,0.4,0.5,0.6,0.7,0.8,0.9,1,1.1,1.2,1.3,1.4,1.5,1.6,1.7,1.8,1.9,2,2.1,2.2,2.3,2.4,2.5,2.6,2.7,2.8,2.9,3], "labels": false, "title": null, "tickSize": {"condition": {"test": "round(datum.value*10)%5==0", "value": -6}, "value": -3}}},
     "y2": {"datum": 3}
    }},
   {"data": {"values": [{}]}, "mark": {"type": "text", "text": "t - t", "align": "left", "dx": 2, "dy": -4, "fontSize": 16}, "encoding": {"x": {"datum": 0.9, "type": "quantitative", "axis": null}, "y": {"datum": 3, "type": "quantitative", "axis": null}}},
   {"data": {"values": [{}]}, "mark": {"type": "text", "text": "ELM", "align": "left", "dx": 26, "dy": -2, "fontSize": 9}, "encoding": {"x": {"datum": 0.9, "type": "quantitative", "axis": null}, "y": {"datum": 3, "type": "quantitative", "axis": null}}},
   {"data": {"values": [{}]}, "mark": {"type": "text", "text": "= +8ms", "align": "left", "dx": 48, "dy": -4, "fontSize": 16}, "encoding": {"x": {"datum": 0.9, "type": "quantitative", "axis": null}, "y": {"datum": 3, "type": "quantitative", "axis": null}}},
   {"data": {"values": [{}]}, "mark": {"type": "text", "text": "#31529", "align": "right", "dx": -2, "dy": -4, "fontSize": 16}, "encoding": {"x": {"datum": 1.0, "type": "quantitative", "axis": null}, "y": {"datum": 3, "type": "quantitative", "axis": null}}},
   {"data": {"values": [{}]}, "mark": {"type": "text", "text": "(g)", "align": "right", "dx": -3, "dy": 17, "fontSize": 16}, "encoding": {"x": {"datum": 1.0, "type": "quantitative", "axis": null}, "y": {"datum": 3, "type": "quantitative", "axis": null}}}
  ],
  "resolve": {"axis": {"x": "independent", "y": "independent"}}},
 {"width": 296, "height": 210,
  "layer": [
   {"data": {"name": "d"}, "transform": [{"filter": "datum.p=='b'"}],
    "mark": {"type": "line", "strokeWidth": 2, "clip": true},
    "encoding": {
     "x": {"field": "x", "type": "quantitative", "scale": {"domain": [0.9, 1.0], "nice": false, "zero": false}, "axis": {"orient": "bottom", "values": [0.9,0.91,0.92,0.93,0.94,0.95,0.96,0.97,0.98,0.99,1.0], "labelExpr": "abs(datum.value-1)<0.001 ? '1.0' : (round(datum.value*100)%2==0 ? format(datum.value,'.2f') : '')", "labelFlush": false, "labelPadding": 8, "title": null, "tickSize": {"condition": {"test": "round(datum.value*100)%2==0", "value": -6}, "value": -3}}},
     "y": {"field": "y", "type": "quantitative", "scale": {"domain": [0, 4], "nice": false, "zero": false}, "axis": {"orient": "left", "values": [0,0.2,0.4,0.6,0.8,1,1.2,1.4,1.6,1.8,2,2.2,2.4,2.6,2.8,3,3.2,3.4,3.6,3.8,4], "labelExpr": "round(datum.value*5)%5==0 ? format(datum.value,'d') : ''", "labelFlush": true, "labelPadding": 9, "tickSize": {"condition": {"test": "round(datum.value*5)%5==0", "value": -6}, "value": -3}, "title": "Q [MW]"}},
     "color": {"field": "s", "type": "nominal", "scale": {"domain": ["ce","ci","cn","qe","qi"], "range": ["#0000ff","#000000","#ff0000","#0000ff","#000000"]}, "legend": null}
    }},
   {"data": {"values": [{}]}, "mark": {"type": "rect", "color": "#6a6a6a", "opacity": 0.86},
    "encoding": {
     "x": {"datum": 0.9592, "type": "quantitative", "axis": {"orient": "top", "values": [0.9,0.91,0.92,0.93,0.94,0.95,0.96,0.97,0.98,0.99,1.0], "labels": false, "title": null, "tickSize": {"condition": {"test": "round(datum.value*100)%2==0", "value": -6}, "value": -3}}},
     "x2": {"datum": 0.9752},
     "y": {"datum": 0, "type": "quantitative", "axis": {"orient": "right", "values": [0,0.2,0.4,0.6,0.8,1,1.2,1.4,1.6,1.8,2,2.2,2.4,2.6,2.8,3,3.2,3.4,3.6,3.8,4], "labels": false, "title": null, "tickSize": {"condition": {"test": "round(datum.value*5)%5==0", "value": -6}, "value": -3}}},
     "y2": {"datum": 4}
    }},
   {"data": {"values": [{}]}, "mark": {"type": "text", "text": "(b)", "align": "right", "dx": -3, "dy": 17, "fontSize": 16}, "encoding": {"x": {"datum": 1.0, "type": "quantitative", "axis": null}, "y": {"datum": 4, "type": "quantitative", "axis": null}}},
   {"data": {"values": [{}]}, "mark": {"type": "text", "text": "Q", "align": "left", "fontSize": 19, "color": "#0000ff"}, "encoding": {"x": {"datum": 0.9051, "type": "quantitative", "axis": null}, "y": {"datum": 1.97, "type": "quantitative", "axis": null}}},
   {"data": {"values": [{}]}, "mark": {"type": "text", "text": "e", "align": "left", "dx": 15, "dy": 5.5, "fontSize": 12, "color": "#0000ff"}, "encoding": {"x": {"datum": 0.9051, "type": "quantitative", "axis": null}, "y": {"datum": 1.97, "type": "quantitative", "axis": null}}},
   {"data": {"values": [{}]}, "mark": {"type": "text", "text": "Q", "align": "left", "fontSize": 19, "color": "black"}, "encoding": {"x": {"datum": 0.9051, "type": "quantitative", "axis": null}, "y": {"datum": 0.743, "type": "quantitative", "axis": null}}},
   {"data": {"values": [{}]}, "mark": {"type": "text", "text": "i", "align": "left", "dx": 15, "dy": 5, "fontSize": 12, "color": "black"}, "encoding": {"x": {"datum": 0.9051, "type": "quantitative", "axis": null}, "y": {"datum": 0.743, "type": "quantitative", "axis": null}}},
   {"data": {"values": [{}]}, "mark": {"type": "text", "text": "ρ", "align": "right", "dx": -6, "dy": 32, "fontSize": 16}, "encoding": {"x": {"datum": 0.95, "type": "quantitative", "axis": null}, "y": {"datum": 0, "type": "quantitative", "axis": null}}},
   {"data": {"values": [{}]}, "mark": {"type": "text", "text": "pol", "align": "left", "dx": -6, "dy": 35, "fontSize": 11}, "encoding": {"x": {"datum": 0.95, "type": "quantitative", "axis": null}, "y": {"datum": 0, "type": "quantitative", "axis": null}}}
  ],
  "resolve": {"axis": {"x": "independent", "y": "independent"}}},
 {"width": 296, "height": 210, "view": {"fill": "#dcf6e6"},
  "layer": [
   {"data": {"name": "d"}, "transform": [{"filter": "datum.p=='d'"}],
    "mark": {"type": "line", "strokeWidth": 2, "clip": true},
    "encoding": {
     "x": {"field": "x", "type": "quantitative", "scale": {"domain": [0.9, 1.0], "nice": false, "zero": false}, "axis": {"orient": "bottom", "values": [0.9,0.91,0.92,0.93,0.94,0.95,0.96,0.97,0.98,0.99,1.0], "labelExpr": "abs(datum.value-1)<0.001 ? '1.0' : (round(datum.value*100)%2==0 ? format(datum.value,'.2f') : '')", "labelFlush": false, "labelPadding": 8, "title": null, "tickSize": {"condition": {"test": "round(datum.value*100)%2==0", "value": -6}, "value": -3}}},
     "y": {"field": "y", "type": "quantitative", "scale": {"domain": [0, 16], "nice": false, "zero": false}, "axis": {"orient": "left", "values": [0,1,2,3,4,5,6,7,8,9,10,11,12,13,14,15,16], "labelExpr": "round(datum.value)%5==0 ? format(datum.value,'d') : ''", "labelFlush": true, "labelPadding": 9, "tickSize": {"condition": {"test": "round(datum.value)%5==0", "value": -6}, "value": -3}, "title": null}},
     "color": {"field": "s", "type": "nominal", "scale": {"domain": ["ce","ci","cn","qe","qi"], "range": ["#0000ff","#000000","#ff0000","#0000ff","#000000"]}, "legend": null}
    }},
   {"data": {"values": [{}]}, "mark": {"type": "rect", "color": "#6a6a6a", "opacity": 0.86},
    "encoding": {
     "x": {"datum": 0.9592, "type": "quantitative", "axis": {"orient": "top", "values": [0.9,0.91,0.92,0.93,0.94,0.95,0.96,0.97,0.98,0.99,1.0], "labels": false, "title": null, "tickSize": {"condition": {"test": "round(datum.value*100)%2==0", "value": -6}, "value": -3}}},
     "x2": {"datum": 0.9752},
     "y": {"datum": 0, "type": "quantitative", "axis": {"orient": "right", "values": [0,1,2,3,4,5,6,7,8,9,10,11,12,13,14,15,16], "labels": false, "title": null, "tickSize": {"condition": {"test": "round(datum.value)%5==0", "value": -6}, "value": -3}}},
     "y2": {"datum": 16}
    }},
   {"data": {"values": [{}]}, "mark": {"type": "text", "text": "(d)", "align": "right", "dx": -4, "dy": -10, "fontSize": 16}, "encoding": {"x": {"datum": 1.0, "type": "quantitative", "axis": null}, "y": {"datum": 0, "type": "quantitative", "axis": null}}},
   {"data": {"values": [{}]}, "mark": {"type": "text", "text": "ρ", "align": "right", "dx": -6, "dy": 32, "fontSize": 16}, "encoding": {"x": {"datum": 0.95, "type": "quantitative", "axis": null}, "y": {"datum": 0, "type": "quantitative", "axis": null}}},
   {"data": {"values": [{}]}, "mark": {"type": "text", "text": "pol", "align": "left", "dx": -6, "dy": 35, "fontSize": 11}, "encoding": {"x": {"datum": 0.95, "type": "quantitative", "axis": null}, "y": {"datum": 0, "type": "quantitative", "axis": null}}}
  ],
  "resolve": {"axis": {"x": "independent", "y": "independent"}}},
 {"width": 296, "height": 210,
  "layer": [
   {"data": {"name": "d"}, "transform": [{"filter": "datum.p=='f'"}],
    "mark": {"type": "line", "strokeWidth": 2, "clip": true},
    "encoding": {
     "x": {"field": "x", "type": "quantitative", "scale": {"domain": [0.9, 1.0], "nice": false, "zero": false}, "axis": {"orient": "bottom", "values": [0.9,0.91,0.92,0.93,0.94,0.95,0.96,0.97,0.98,0.99,1.0], "labelExpr": "abs(datum.value-1)<0.001 ? '1.0' : (round(datum.value*100)%2==0 ? format(datum.value,'.2f') : '')", "labelFlush": false, "labelPadding": 8, "title": null, "tickSize": {"condition": {"test": "round(datum.value*100)%2==0", "value": -6}, "value": -3}}},
     "y": {"field": "y", "type": "quantitative", "scale": {"domain": [0, 4], "nice": false, "zero": false}, "axis": {"orient": "left", "values": [0,0.2,0.4,0.6,0.8,1,1.2,1.4,1.6,1.8,2,2.2,2.4,2.6,2.8,3,3.2,3.4,3.6,3.8,4], "labelExpr": "round(datum.value*5)%5==0 ? format(datum.value,'d') : ''", "labelFlush": true, "labelPadding": 9, "tickSize": {"condition": {"test": "round(datum.value*5)%5==0", "value": -6}, "value": -3}, "title": null}},
     "color": {"field": "s", "type": "nominal", "scale": {"domain": ["ce","ci","cn","qe","qi"], "range": ["#0000ff","#000000","#ff0000","#0000ff","#000000"]}, "legend": null}
    }},
   {"data": {"values": [{}]}, "mark": {"type": "rect", "color": "#6a6a6a", "opacity": 0.86},
    "encoding": {
     "x": {"datum": 0.9592, "type": "quantitative", "axis": {"orient": "top", "values": [0.9,0.91,0.92,0.93,0.94,0.95,0.96,0.97,0.98,0.99,1.0], "labels": false, "title": null, "tickSize": {"condition": {"test": "round(datum.value*100)%2==0", "value": -6}, "value": -3}}},
     "x2": {"datum": 0.9752},
     "y": {"datum": 0, "type": "quantitative", "axis": {"orient": "right", "values": [0,0.2,0.4,0.6,0.8,1,1.2,1.4,1.6,1.8,2,2.2,2.4,2.6,2.8,3,3.2,3.4,3.6,3.8,4], "labels": false, "title": null, "tickSize": {"condition": {"test": "round(datum.value*5)%5==0", "value": -6}, "value": -3}}},
     "y2": {"datum": 4}
    }},
   {"data": {"values": [{}]}, "mark": {"type": "text", "text": "(f)", "align": "right", "dx": -6, "dy": 17, "fontSize": 16}, "encoding": {"x": {"datum": 1.0, "type": "quantitative", "axis": null}, "y": {"datum": 4, "type": "quantitative", "axis": null}}},
   {"data": {"values": [{}]}, "mark": {"type": "text", "text": "ρ", "align": "right", "dx": -6, "dy": 32, "fontSize": 16}, "encoding": {"x": {"datum": 0.95, "type": "quantitative", "axis": null}, "y": {"datum": 0, "type": "quantitative", "axis": null}}},
   {"data": {"values": [{}]}, "mark": {"type": "text", "text": "pol", "align": "left", "dx": -6, "dy": 35, "fontSize": 11}, "encoding": {"x": {"datum": 0.95, "type": "quantitative", "axis": null}, "y": {"datum": 0, "type": "quantitative", "axis": null}}}
  ],
  "resolve": {"axis": {"x": "independent", "y": "independent"}}},
 {"width": 296, "height": 210,
  "layer": [
   {"data": {"name": "d"}, "transform": [{"filter": "datum.p=='h'"}],
    "mark": {"type": "line", "strokeWidth": 2, "clip": true},
    "encoding": {
     "x": {"field": "x", "type": "quantitative", "scale": {"domain": [0.9, 1.0], "nice": false, "zero": false}, "axis": {"orient": "bottom", "values": [0.9,0.91,0.92,0.93,0.94,0.95,0.96,0.97,0.98,0.99,1.0], "labelExpr": "abs(datum.value-1)<0.001 ? '1.0' : (round(datum.value*100)%2==0 ? format(datum.value,'.2f') : '')", "labelFlush": false, "labelPadding": 8, "title": null, "tickSize": {"condition": {"test": "round(datum.value*100)%2==0", "value": -6}, "value": -3}}},
     "y": {"field": "y", "type": "quantitative", "scale": {"domain": [0, 4], "nice": false, "zero": false}, "axis": {"orient": "left", "values": [0,0.2,0.4,0.6,0.8,1,1.2,1.4,1.6,1.8,2,2.2,2.4,2.6,2.8,3,3.2,3.4,3.6,3.8,4], "labelExpr": "round(datum.value*5)%5==0 ? format(datum.value,'d') : ''", "labelFlush": true, "labelPadding": 9, "tickSize": {"condition": {"test": "round(datum.value*5)%5==0", "value": -6}, "value": -3}, "title": null}},
     "color": {"field": "s", "type": "nominal", "scale": {"domain": ["ce","ci","cn","qe","qi"], "range": ["#0000ff","#000000","#ff0000","#0000ff","#000000"]}, "legend": null}
    }},
   {"data": {"values": [{}]}, "mark": {"type": "rect", "color": "#6a6a6a", "opacity": 0.86},
    "encoding": {
     "x": {"datum": 0.9592, "type": "quantitative", "axis": {"orient": "top", "values": [0.9,0.91,0.92,0.93,0.94,0.95,0.96,0.97,0.98,0.99,1.0], "labels": false, "title": null, "tickSize": {"condition": {"test": "round(datum.value*100)%2==0", "value": -6}, "value": -3}}},
     "x2": {"datum": 0.9752},
     "y": {"datum": 0, "type": "quantitative", "axis": {"orient": "right", "values": [0,0.2,0.4,0.6,0.8,1,1.2,1.4,1.6,1.8,2,2.2,2.4,2.6,2.8,3,3.2,3.4,3.6,3.8,4], "labels": false, "title": null, "tickSize": {"condition": {"test": "round(datum.value*5)%5==0", "value": -6}, "value": -3}}},
     "y2": {"datum": 4}
    }},
   {"data": {"values": [{}]}, "mark": {"type": "text", "text": "(h)", "align": "right", "dx": -3, "dy": 17, "fontSize": 16}, "encoding": {"x": {"datum": 1.0, "type": "quantitative", "axis": null}, "y": {"datum": 4, "type": "quantitative", "axis": null}}},
   {"data": {"values": [{}]}, "mark": {"type": "text", "text": "ρ", "align": "right", "dx": -6, "dy": 32, "fontSize": 16}, "encoding": {"x": {"datum": 0.95, "type": "quantitative", "axis": null}, "y": {"datum": 0, "type": "quantitative", "axis": null}}},
   {"data": {"values": [{}]}, "mark": {"type": "text", "text": "pol", "align": "left", "dx": -6, "dy": 35, "fontSize": 11}, "encoding": {"x": {"datum": 0.95, "type": "quantitative", "axis": null}, "y": {"datum": 0, "type": "quantitative", "axis": null}}}
  ],
  "resolve": {"axis": {"x": "independent", "y": "independent"}}}
]
}
